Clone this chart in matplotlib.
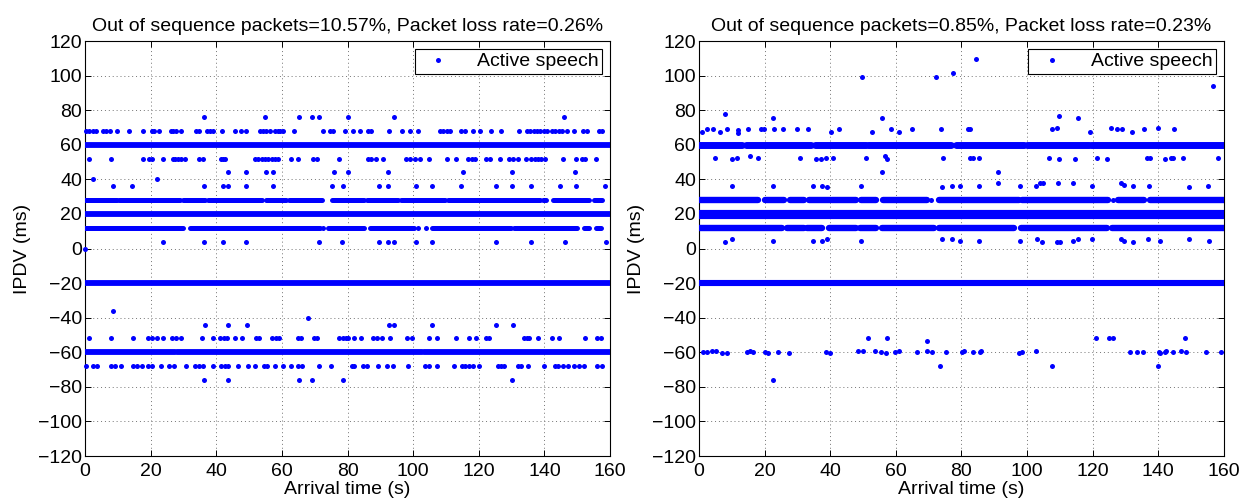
import matplotlib
matplotlib.use("Agg")
import matplotlib.pyplot as plt
from matplotlib.lines import Line2D

plt.rcParams["font.family"] = ["Liberation Sans", "DejaVu Sans"]

BLUE = (0.0, 0.0, 1.0)

titles = ["Out of sequence packets=10.57%, Packet loss rate=0.26%",
          "Out of sequence packets=0.85%, Packet loss rate=0.23%"]
x_ticks = [0, 20, 40, 60, 80, 100, 120, 140, 160]
y_ticks = [-120, -100, -80, -60, -40, -20, 0, 20, 40, 60, 80, 100, 120]

# ---- left panel: levels that are solid bands, as (start, end) runs in seconds
left_band_60 = [(0, 160)]
left_band_20 = [(0, 160)]
left_band_m20 = [(0, 160)]
left_band_m60 = [(0, 27.3), (27.9, 102.6), (103.2, 160)]
left_run_28 = [(0, 9.7), (10.5, 28.8), (29.8, 36.7), (37.5, 54.0), (55.1, 61.2),
               (62.3, 72.1), (75.2, 84.9), (86.0, 95.3), (96.3, 109.7),
               (110.7, 138.6), (139.6, 140.6), (142.7, 153.5), (155.1, 157.6)]
left_run_12 = [(0, 29.8), (31.9, 71.5), (74.1, 84.9), (86.8, 100.4),
               (105.6, 129.8), (130.8, 149.9), (152.0, 153.5), (155.6, 157.1)]
left_dots_12 = [72.6, 101.4, 104.0]

# ---- left panel: sparse levels, arrival times (s)
left_t_76 = [36.4, 54.9, 65.3, 69.2, 71.3, 80.0, 94.2, 146.0]
left_t_68 = [0.3, 1.3, 2.3, 3.4, 5.4, 6.4, 7.6, 9.6, 13.4, 17.6, 20.3, 21.0, 22.6,
             26.2, 26.9, 27.6, 29.2, 33.8, 34.6, 37.1, 38.1, 39.1, 41.6, 45.7,
             47.4, 49.2, 53.3, 54.3, 55.3, 56.5, 57.9, 58.7, 59.4, 60.4, 63.8,
             72.6, 74.6, 75.6, 79.2, 81.7, 83.8, 86.3, 87.3, 92.7, 96.5, 99.0,
             101.5, 108.1, 109.1, 110.2, 111.2, 114.7, 115.7, 118.3, 120.3, 123.6,
             126.7, 132.2, 134.7, 135.7, 136.7, 137.7, 138.7, 139.8, 140.8, 142.3,
             143.3, 144.3, 145.3, 146.9, 148.9, 151.9, 152.9, 156.5, 157.4]
left_t_52 = [1.3, 7.9, 17.8, 19.5, 20.3, 23.7, 26.7, 27.4, 28.4, 29.4, 30.5, 34.7,
             36.0, 41.3, 41.9, 42.6, 51.8, 52.8, 53.8, 54.8, 55.8, 56.9, 57.9, 58.9,
             62.7, 65.0, 69.5, 70.6, 77.4, 86.3, 87.3, 88.6, 90.9, 97.8, 99.0, 100.6,
             102.1, 104.9, 110.2, 113.0, 116.8, 117.8, 118.8, 122.3, 123.4, 126.4,
             129.1, 130.4, 132.0, 134.5, 136.0, 137.1, 138.1, 139.1, 140.1, 145.7,
             149.7, 151.3, 152.3, 155.8]
left_t_44 = [43.5, 49.2, 55.0, 57.4, 75.9, 80.2, 92.4, 115.1, 130.0, 149.3]
left_t_40 = [2.5, 21.8]
left_t_36 = [8.6, 14.2, 36.4, 41.9, 43.5, 49.2, 57.4, 75.4, 78.5, 89.5, 92.4,
             101.0, 105.6, 114.7, 125.2, 130.0, 135.9, 144.7, 149.6, 158.4]
left_t_4 = [23.9, 36.4, 41.9, 49.2, 71.3, 78.4, 89.5, 92.4, 94.2, 101.0, 105.6,
            125.2, 135.9, 146.2, 158.7]
left_t_0 = [0.0]
left_t_m36 = [8.6]
left_t_m40 = [68.0]
left_t_m44 = [36.5, 43.7, 49.4, 92.7, 94.2, 105.6, 125.2, 130.3]
left_t_m52 = [1.2, 8.0, 14.6, 19.2, 20.5, 21.9, 23.8, 26.4, 27.7, 29.3, 35.7, 39.1,
              41.1, 42.2, 43.2, 45.6, 47.8, 52.0, 53.0, 57.1, 58.1, 59.2, 64.8,
              65.9, 69.8, 70.8, 77.5, 78.6, 79.4, 80.0, 81.9, 84.1, 87.8, 89.1,
              90.6, 92.9, 98.1, 99.6, 104.9, 107.4, 113.0, 116.9, 119.2, 122.3,
              123.1, 133.9, 134.7, 135.3, 138.0, 142.2, 144.5, 152.3, 156.1, 157.1]
left_t_m68 = [0.4, 2.5, 3.7, 7.8, 9.2, 10.9, 14.6, 15.9, 17.4, 19.2, 20.5, 23.3,
              25.7, 27.0, 30.8, 33.4, 34.7, 36.0, 38.9, 41.4, 42.7, 43.7, 46.5,
              49.7, 51.8, 54.5, 55.6, 57.9, 60.4, 62.8, 64.8, 66.2, 71.3, 75.1,
              81.3, 81.9, 84.7, 86.0, 89.3, 92.0, 94.0, 98.4, 103.5, 104.7, 107.4,
              112.4, 114.8, 115.9, 116.9, 118.1, 120.2, 125.7, 126.7, 127.7, 131.9,
              132.9, 134.9, 139.8, 143.2, 144.2, 145.8, 147.3, 148.9, 150.4, 152.0,
              156.1, 157.6]
left_t_m76 = [36.4, 43.5, 65.3, 69.2, 78.7, 130.0]

left_sparse = [(76, left_t_76), (68, left_t_68), (52, left_t_52), (44, left_t_44),
               (40, left_t_40), (36, left_t_36), (4, left_t_4), (0, left_t_0),
               (-36, left_t_m36), (-40, left_t_m40), (-44, left_t_m44),
               (-52, left_t_m52), (-68, left_t_m68), (-76, left_t_m76)]

# ---- right panel: bands (jittered rows, drawn as runs)
right_band_60 = [(0, 13.2), (14.3, 34.3), (35.3, 50.8), (51.6, 76.9),
                 (78.2, 99.0), (100.0, 118.8), (119.6, 160)]
right_band_28 = [(0, 18.0), (20.0, 26.0), (27.8, 32.0), (33.5, 40.2), (40.7, 48.0),
                 (49.5, 54.0), (56.0, 69.6), (73.2, 97.4), (98.5, 124.7),
                 (127.8, 135.6), (137.6, 160)]
right_band_20 = [(0, 160)]
right_band_12 = [(0, 25.3), (26.8, 32.0), (33.0, 37.6), (39.7, 48.0), (49.0, 54.0),
                 (55.7, 71.6), (73.2, 95.9), (98.0, 124.2), (125.8, 160)]
right_band_m20 = [(0, 160)]

# ---- right panel: scattered packets (time s, IPDV ms)
right_t = [49.8, 72.2, 77.3, 84.5, 156.8,
           7.9, 22.7, 55.9, 109.6, 115.5,
           1.0, 2.6, 4.2, 6.4, 8.6, 12.0, 12.0, 14.8, 18.9, 19.8, 22.9, 25.5, 30.0,
           33.3, 40.1, 42.7, 52.6, 58.4, 61.1, 65.0, 73.8, 81.9, 82.6, 107.5,
           109.1, 119.2, 125.6, 127.3, 128.9, 132.0, 135.5, 139.9, 144.8,
           70.6, 126.3,
           4.9, 10.0, 11.5, 15.5, 18.1, 30.8, 35.7, 37.2, 38.7, 40.8, 50.8, 56.7,
           57.2, 74.5, 82.6, 83.6, 85.2, 106.8, 109.6, 114.7, 121.4, 124.3, 136.5,
           137.5, 142.0, 143.8, 144.4, 147.6, 158.3,
           55.9, 91.1,
           10.2, 22.7, 34.9, 37.4, 38.9, 49.3, 74.1, 77.1, 79.6, 85.2, 91.1, 97.9,
           102.6, 103.8, 104.7, 109.3, 114.1, 119.9, 128.6, 129.4, 132.4, 137.0,
           149.2, 155.1,
           7.9, 10.2, 22.7, 34.9, 37.4, 39.1, 49.3, 74.2, 77.1, 79.6, 85.2, 97.9,
           103.1, 104.5, 109.1, 110.1, 114.1, 115.5, 119.9, 128.6, 129.6, 132.4,
           136.8, 140.6, 149.2, 155.3,
           1.3, 2.5, 4.1, 5.2, 6.9, 8.4, 14.5, 15.5, 16.6, 20.1, 21.1, 24.2, 27.4,
           38.7, 39.9, 48.6, 49.9, 53.7, 55.5, 56.9, 59.8, 61.1, 66.6, 69.4, 70.9,
           75.3, 80.1, 80.9, 83.6, 85.5, 85.9, 97.6, 98.4, 102.7, 131.3, 133.4,
           135.4, 140.1, 140.6, 141.9, 142.4, 144.4, 147.0, 148.4, 154.6, 159.0,
           51.4, 57.2, 69.4, 121.0, 124.9, 126.1, 148.0,
           22.7, 73.5, 107.5, 139.9]
right_y = [99.4, 99.4, 101.3, 109.6, 94.0,
           77.8, 75.7, 75.7, 76.5, 75.7,
           67.4, 68.9, 68.9, 67.4, 68.9, 68.5, 67.0, 68.9, 68.9, 68.9, 68.9, 68.9, 68.9,
           68.9, 67.4, 68.9, 67.4, 68.9, 67.4, 68.9, 68.9, 68.9, 68.9, 68.9,
           69.5, 67.4, 69.7, 68.9, 68.9, 67.4, 68.9, 69.7, 68.9,
           28.0, 28.0,
           52.2, 51.6, 52.2, 53.5, 52.2, 52.2, 51.6, 51.6, 52.2, 52.2, 52.2, 53.5,
           51.6, 52.2, 52.2, 52.2, 52.2, 52.2, 51.6, 51.6, 52.2, 51.6, 52.2,
           52.2, 51.6, 52.2, 52.2, 52.2, 52.2,
           44.5, 44.5,
           36.2, 36.2, 36.2, 36.2, 35.4, 36.2, 35.4, 36.2, 36.2, 36.2, 37.7, 36.2,
           36.2, 37.7, 37.7, 37.7, 37.7, 36.2, 37.7, 36.8, 36.2, 36.2,
           35.4, 36.2,
           3.6, 5.7, 4.2, 4.2, 4.2, 5.7, 4.2, 5.7, 5.7, 4.2, 4.2, 4.2,
           5.7, 3.6, 3.6, 3.6, 4.2, 5.7, 5.7, 5.7, 4.2, 3.6,
           5.7, 4.2, 5.7, 4.2,
           -60.0, -60.0, -59.5, -59.5, -60.5, -60.5, -59.8, -59.5, -60.0, -60.0, -60.5, -60.0, -60.5,
           -60.0, -60.5, -59.3, -59.5, -59.5, -60.0, -60.5, -60.0, -59.5, -60.0, -59.3, -60.0,
           -60.0, -60.0, -59.5, -60.0, -60.0, -59.3, -60.5, -60.0, -59.3, -60.0, -60.0,
           -59.8, -60.0, -60.5, -60.0, -59.5, -60.0, -59.5, -60.0, -60.0, -60.0,
           -52.0, -52.0, -53.5, -52.0, -52.0, -52.0, -52.0,
           -76.0, -68.0, -68.0, -68.0]


def draw_runs(ax, runs, level, width):
    for t0, t1 in runs:
        ax.plot([t0, t1], [level, level], color=BLUE, lw=width,
                solid_capstyle="round", zorder=3)


def style_axes(ax, title):
    ax.set_xlim(0, 160)
    ax.set_ylim(-120, 120)
    ax.set_xticks(x_ticks)
    ax.set_yticks(y_ticks)
    ax.tick_params(direction="in", top=True, right=True, length=4, width=0.7,
                   labelsize=14)
    ax.tick_params(axis="x", pad=5)
    ax.tick_params(axis="y", pad=2)
    ax.grid(True, linestyle=(0, (1, 3)), color="0.45", lw=0.7)
    ax.set_axisbelow(True)
    for s in ax.spines.values():
        s.set_linewidth(0.8)
    ax.set_title(title, fontsize=14, pad=7)
    ax.set_xlabel("Arrival time (s)", fontsize=14, labelpad=1)
    ax.set_ylabel("IPDV (ms)", fontsize=14, labelpad=5)
    handle = Line2D([], [], color=BLUE, marker="o", ms=3.6, mew=0, ls="none")
    leg = ax.legend([handle], ["Active speech"], loc="upper right", fontsize=14,
                    fancybox=False, framealpha=1, edgecolor="black",
                    borderpad=0.2, handletextpad=1.0, borderaxespad=0.4,
                    handlelength=2.0)
    leg.get_frame().set_linewidth(0.8)
    leg.set_zorder(10)


fig = plt.figure(figsize=(12.43, 5.01), dpi=100)
ax1 = fig.add_axes([0.0684, 0.0898, 0.4224, 0.8283])
ax2 = fig.add_axes([0.5623, 0.0898, 0.4224, 0.8283])

# left panel
for runs, lvl in [(left_band_60, 60), (left_band_20, 20), (left_band_m20, -20),
                  (left_band_m60, -60)]:
    draw_runs(ax1, runs, lvl, 4.2)
draw_runs(ax1, left_run_28, 28, 3.6)
draw_runs(ax1, left_run_12, 12, 3.6)
ax1.plot(left_dots_12, [12] * len(left_dots_12), "o", color=BLUE, ms=3.6, mew=0,
         zorder=3, clip_on=False)
for lvl, ts in left_sparse:
    ax1.plot(ts, [lvl] * len(ts), "o", color=BLUE, ms=3.6, mew=0, zorder=3,
             clip_on=False)
style_axes(ax1, titles[0])

# right panel
draw_runs(ax2, right_band_60, 60, 5.0)
draw_runs(ax2, right_band_28, 28, 4.6)
draw_runs(ax2, right_band_20, 20, 6.6)
draw_runs(ax2, right_band_12, 12, 4.6)
draw_runs(ax2, right_band_m20, -20, 4.4)
ax2.plot(right_t, right_y, "o", color=BLUE, ms=3.6, mew=0, zorder=3, clip_on=False)
style_axes(ax2, titles[1])

fig.savefig("out.png", dpi=100)
